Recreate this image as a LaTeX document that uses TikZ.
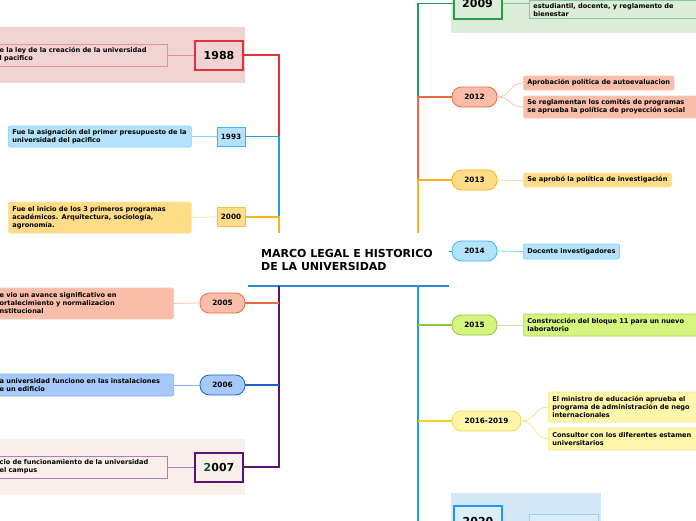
\documentclass[tikz,border=0pt]{standalone}
\usepackage{fontspec}
\setmainfont{DejaVu Sans}
\definecolor{cRed}{HTML}{E8303A}
\definecolor{cBand1}{HTML}{F2D3D4}
\definecolor{cRedL}{HTML}{F08A8F}
\definecolor{cBlue}{HTML}{1BA1E2}
\definecolor{cBlueF}{HTML}{B3E3FA}
\definecolor{cBlueB}{HTML}{3DB5EE}
\definecolor{cBlueL}{HTML}{7DD3F7}
\definecolor{cOrg}{HTML}{F7B41D}
\definecolor{cOrgF}{HTML}{FFDD88}
\definecolor{cOrgB}{HTML}{F6C040}
\definecolor{cOrgL}{HTML}{FBE3A6}
\definecolor{cSal}{HTML}{EE6A44}
\definecolor{cSalF}{HTML}{F9BDA9}
\definecolor{cSalL}{HTML}{F9C9B8}
\definecolor{cNavy}{HTML}{1F5FCF}
\definecolor{cNavyF}{HTML}{A6C9F9}
\definecolor{cNavyL}{HTML}{86B0F2}
\definecolor{cPur}{HTML}{5B1470}
\definecolor{cPurBand}{HTML}{FBEFEC}
\definecolor{cPurL}{HTML}{B07BC1}
\definecolor{cTitle}{HTML}{2A88CC}
\definecolor{cGrn}{HTML}{2A9A4E}
\definecolor{cGrnBand}{HTML}{DCEDD9}
\definecolor{cGrnL}{HTML}{8CC79A}
\definecolor{cLime}{HTML}{8CC63F}
\definecolor{cLimeF}{HTML}{D5F57F}
\definecolor{cLimeL}{HTML}{A8D860}
\definecolor{cYel}{HTML}{EED420}
\definecolor{cYelF}{HTML}{FFF6AC}
\definecolor{cYelB}{HTML}{EEDB4D}
\definecolor{cYelL}{HTML}{F2E68A}
\definecolor{cSky}{HTML}{2196F3}
\definecolor{cSkyBand}{HTML}{D3E7F7}
\definecolor{cSkyF}{HTML}{DCEEFA}
\definecolor{cSkyL}{HTML}{9DD0F0}
\definecolor{cTeal}{HTML}{0F4F3A}
\begin{document}
\begin{tikzpicture}[x=1pt,y=-1pt,
  desc/.style={draw, rounded corners=2pt, line width=0.7pt, align=left,
    font=\fontsize{6.6}{8}\selectfont\bfseries, inner xsep=4pt, inner ysep=0pt},
  flatdesc/.style={desc, rounded corners=0pt},
  ybig/.style={draw, line width=2pt, minimum width=48pt, minimum height=29pt,
    font=\fontsize{11}{13}\selectfont\bfseries, inner sep=0pt},
  ysmall/.style={draw, line width=0.8pt, minimum width=28pt, minimum height=19pt,
    font=\fontsize{7.3}{9}\selectfont\bfseries, inner sep=0pt},
  pill/.style={draw, line width=0.8pt, rounded corners=9.5pt, minimum width=45pt,
    minimum height=20pt, font=\fontsize{7.3}{9}\selectfont\bfseries, inner sep=0pt},
  trunk/.style={line width=1.3pt},
  twig/.style={line width=0.8pt},
]
\useasboundingbox (0,0) rectangle (696,520);
\fill[white] (0,0) rectangle (696,520);

% ---------------- bands ----------------
\fill[cBand1] (0,27) rectangle (245,83);
\fill[cPurBand] (0,439) rectangle (245,495);
\fill[cGrnBand] (451,-5) rectangle (700,33);
\fill[cSkyBand] (451,493) rectangle (601,525);

% ---------------- title ----------------
\node[font=\fontsize{11}{13.5}\selectfont\bfseries, align=left, anchor=west, inner sep=0pt]
  (title) at (261,260) {MARCO LEGAL E HISTORICO\\DE LA UNIVERSIDAD};
\coordinate (ulL) at (248,286);
\coordinate (ulR) at (449,286);
\draw[cTitle, line width=1.6pt] (ulL) -- (ulR);

% ---------------- left top ----------------
\node[ybig, draw=cRed, fill=cBand1] (y1988) at (219,55) {1988};
\node[flatdesc, draw=cRedL, fill=cBand1, anchor=east, text width=164pt, minimum height=22pt]
  (d1988) at (168,55) {e la ley de la creación de la universidad\\l pacifico};
\draw[twig, cRedL] (d1988.east) -- (y1988.west);

\node[ysmall, draw=cBlueB, fill=cBlueF] (y1993) at (231,136.5) {1993};
\node[desc, draw=cBlueL, fill=cBlueF, anchor=west, text width=175pt, minimum height=21pt]
  (d1993) at (8,136.5) {Fue la asignación del primer presupuesto de la\\universidad del pacifico};
\draw[twig, cBlueL] (d1993.east) -- (y1993.west);

\node[ysmall, draw=cOrgB, fill=cOrgF] (y2000) at (231,217) {2000};
\node[desc, draw=cOrgL, fill=cOrgF, anchor=west, text width=175pt, minimum height=31pt]
  (d2000) at (8,217.5) {Fue el inicio de los 3 primeros programas\\académicos. Arquitectura, sociología,\\agronomía.};
\draw[twig, cOrgL] (d2000.east) -- (y2000.west);

\coordinate (L1) at (279,136.5);
\coordinate (L2) at (279,217);
\coordinate (L3) at (279,233);
\draw[trunk, cRed] (y1988.east) -| (L1);
\draw[trunk, cBlue] (y1993.east) -- (L1) -- (L2);
\draw[trunk, cOrg] (y2000.east) -- (L2) -- (L3);

% ---------------- left bottom ----------------
\node[pill, draw=cSal, fill=cSalF] (y2005) at (222.5,303) {2005};
\node[desc, draw=cSalL, fill=cSalF, anchor=east, text width=170pt, minimum height=31pt]
  (d2005) at (174,303.5) {e vio un avance significativo en\\ortalecimiento y normalizacion\\nstitucional};
\draw[twig, cSalL] (d2005.east) -- (y2005.west);

\node[pill, draw=cNavy, fill=cNavyF] (y2006) at (222.5,385) {2006};
\node[desc, draw=cNavyL, fill=cNavyF, anchor=east, text width=170pt, minimum height=22pt]
  (d2006) at (174,385) {a universidad funciono en las instalaciones\\e un edificio};
\draw[twig, cNavyL] (d2006.east) -- (y2006.west);

\node[ybig, draw=cPur, fill=cPurBand] (y2007) at (219,467) {{\color{cTeal}2}007};
\node[flatdesc, draw=cPurL, fill=cPurBand, anchor=east, text width=164pt, minimum height=22pt]
  (d2007) at (168,467) {cio de funcionamiento de la universidad\\el campus};
\draw[twig, cPurL] (d2007.east) -- (y2007.west);

\coordinate (L4) at (279,286);
\coordinate (L5) at (279,303);
\coordinate (L6) at (279,385);
\draw[trunk, cPur] (L4) |- (y2007.east);
\draw[trunk, cSal] (y2005.east) -- (L5);
\draw[trunk, cNavy] (y2006.east) -- (L6);

% ---------------- right top ----------------
\node[ybig, draw=cGrn, fill=cGrnBand, minimum height=31pt] (y2009) at (477.5,3.5) {2009};
\node[flatdesc, draw=cGrnL, fill=cGrnBand, anchor=south west, text width=175pt,
  inner ysep=2.5pt] (d2009) at (529,19) {estudiantil, docente, y reglamento de\\bienestar};
\draw[twig, cGrnL] (y2009.east) -- (y2009.east -| d2009.west);

\node[pill, draw=cSal, fill=cSalF] (y2012) at (474.5,97) {2012};
\node[desc, draw=cSalL, fill=cSalF, anchor=west, minimum height=14pt] (d2012a) at (523,83)
  {Aprobación política de autoevaluacion};
\node[desc, draw=cSalL, fill=cSalF, anchor=west, text width=170pt, minimum height=22pt] (d2012b) at (523,107)
  {Se reglamentan los comités de programas\\se aprueba la política de proyección social};
\draw[twig, cSalL] (y2012.east) .. controls (511,97) and (509,83) .. (d2012a.west);
\draw[twig, cSalL] (y2012.east) .. controls (511,97) and (509,107) .. (d2012b.west);

\node[pill, draw=cOrg, fill=cOrgF] (y2013) at (474.5,180) {2013};
\node[desc, draw=cOrgL, fill=cOrgF, anchor=west, minimum height=14pt] (d2013) at (523,180)
  {Se aprobó la política de investigación};
\draw[twig, cOrgL] (y2013.east) -- (d2013.west);

\coordinate (R1) at (418,3.5);
\coordinate (R2) at (418,97);
\coordinate (R3) at (418,180);
\coordinate (R4) at (418,233);
\draw[trunk, cGrn] (y2009.west) -- (R1) -- (R2);
\draw[trunk, cSal] (y2012.west) -- (R2) -- (R3);
\draw[trunk, cOrg] (y2013.west) -- (R3) -- (R4);

% ---------------- right middle ----------------
\node[pill, draw=cBlueB, fill=cBlueF] (y2014) at (474.5,251) {2014};
\node[desc, draw=cBlueL, fill=cBlueF, anchor=west, minimum height=15pt] (d2014) at (523,251.5)
  {Docente investigadores};
\coordinate (c2014) at (449,251);
\draw[twig, cBlue] (c2014) -- (y2014.west);
\draw[twig, cBlueL] (y2014.east) -- (d2014.west);

% ---------------- right bottom ----------------
\coordinate (R5) at (418,286);
\coordinate (R6) at (418,325);
\coordinate (R7) at (418,421);
\coordinate (R8) at (418,525);
\draw[trunk, cBlue] (R5) -- (R8);

\node[pill, draw=cLime, fill=cLimeF] (y2015) at (474.5,325) {2015};
\node[desc, draw=cLimeL, fill=cLimeF, anchor=west, text width=190pt, minimum height=22pt] (d2015) at (523,325)
  {Construcción del bloque 11 para un nuevo\\laboratorio};
\draw[trunk, cLime] (R6) -- (y2015.west);
\draw[twig, cLimeL!60] (y2015.east) -- (d2015.west);

\node[pill, draw=cYelB, fill=cYelF, minimum width=69pt] (y2016) at (486.5,421) {2016-2019};
\node[desc, draw=cYelL, fill=cYelF, anchor=west, text width=190pt, minimum height=30pt] (d2016a) at (548,407)
  {El ministro de educación aprueba el\\programa de administración de nego\\internacionales};
\node[desc, draw=cYelL, fill=cYelF, anchor=west, text width=190pt, minimum height=22pt] (d2016b) at (548,439)
  {Consultor con los diferentes estamen\\universitarios};
\draw[trunk, cYel] (R7) -- (y2016.west);
\draw[twig, cYelL] (y2016.east) .. controls (536,421) and (534,407) .. (d2016a.west);
\draw[twig, cYelL] (y2016.east) .. controls (536,421) and (534,439) .. (d2016b.west);

\node[ybig, draw=cSky, fill=cSkyF, minimum height=31pt] (y2020) at (478,521) {2020};
\node[flatdesc, draw=cSkyL, fill=cSkyF, anchor=north west, minimum width=69pt, minimum height=20pt]
  (d2020) at (529,514) {};
\end{tikzpicture}
\end{document}
